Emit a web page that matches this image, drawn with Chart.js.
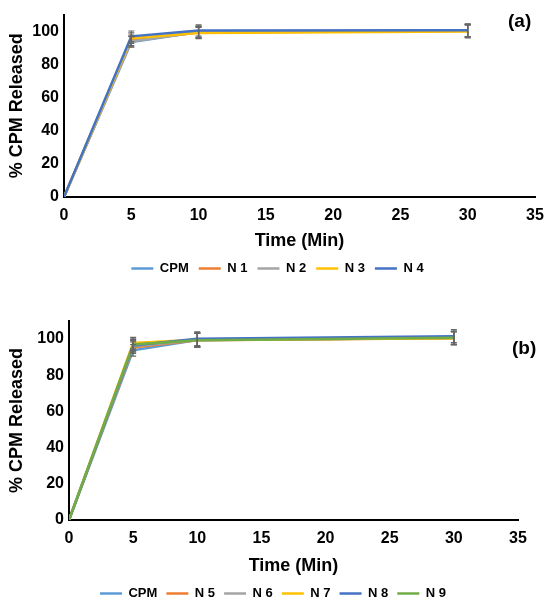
<!DOCTYPE html>
<html>
<head>
<meta charset="utf-8">
<script src="https://cdn.jsdelivr.net/npm/chart.js@4.4.1/dist/chart.umd.min.js"></script>
<style>
  html, body { margin: 0; padding: 0; background: #fff; overflow: hidden; }
  .page { position: relative; width: 556px; height: 605px; overflow: hidden; font-family: "Liberation Sans", Arial, sans-serif; }
  .panel { position: absolute; left: 0; width: 556px; }
  .tag { position: absolute; font-weight: bold; font-size: 19px; color: #000; }
</style>
</head>
<body>
<div class="page">
  <div class="panel" style="top:0;height:300px;"><canvas id="chartA"></canvas></div>
  <div class="panel" style="top:300px;height:314px;"><canvas id="chartB"></canvas></div>
  <div class="tag" style="left:508px;top:10px;">(a)</div>
  <div class="tag" style="left:512px;top:337px;">(b)</div>
</div>
<script>
// time points (min)
const times = [0, 5, 10, 30];
const xTicks = [0, 5, 10, 15, 20, 25, 30, 35];
const yTicks = [0, 20, 40, 60, 80, 100];

// panel (a)
const namesA = ["CPM", "N 1", "N 2", "N 3", "N 4"];
const cpmA = [0, 93.5, 99.5, 100.3];
const n1 = [0, 94.5, 99.2, 100.2];
const n2 = [0, 93.8, 99.6, 100.3];
const n3 = [0, 95.8, 98.9, 99.8];
const n4 = [0, 96.9, 100.4, 100.6];
const errA = [0, 3.2, 3.4, 3.8];

// panel (b)
const namesB = ["CPM", "N 5", "N 6", "N 7", "N 8", "N 9"];
const cpmB = [0, 93.8, 99.5, 100.6];
const n5 = [0, 95.3, 99.3, 100.4];
const n6 = [0, 96.0, 99.5, 100.6];
const n7 = [0, 97.8, 99.7, 100.5];
const n8 = [0, 96.5, 100.2, 101.6];
const n9 = [0, 97.0, 99.4, 100.8];
const errB = [0, 3.2, 3.8, 3.6];

const colors = ["#5B9BD5", "#ED7D31", "#A5A5A5", "#FFC000", "#4472C4", "#70AD47"];

// draws the vertical error bars with caps
const errorBars = {
  id: "errorBars",
  afterDatasetsDraw(chart) {
    const { ctx, scales: { x, y } } = chart;
    ctx.save();
    ctx.strokeStyle = "#666";
    ctx.lineWidth = 1.2;
    chart.data.datasets.forEach((ds) => {
      ds.data.forEach((p, i) => {
        const e = ds.err[i];
        if (!e) return;
        const px = x.getPixelForValue(p.x);
        const top = y.getPixelForValue(p.y + e);
        const bot = y.getPixelForValue(p.y - e);
        ctx.beginPath();
        ctx.moveTo(px, top); ctx.lineTo(px, bot);
        ctx.moveTo(px - 3, top); ctx.lineTo(px + 3, top);
        ctx.moveTo(px - 3, bot); ctx.lineTo(px + 3, bot);
        ctx.stroke();
      });
    });
    ctx.restore();
  },
};

// box: padding + fixed axis sizes, tuned so both panels line up with the figure
function makeChart(id, names, series, err, colorList, box) {
  const datasets = names.map((name, i) => ({
    label: name,
    data: times.map((t, j) => ({ x: t, y: series[i][j] })),
    err: err,
    borderColor: colorList[i],
    backgroundColor: colorList[i],
    borderWidth: 2.5,
    pointRadius: 0,
    tension: 0,
    order: names.length - i,
  }));

  return new Chart(document.getElementById(id), {
    type: "line",
    data: { datasets },
    options: {
      responsive: true,
      maintainAspectRatio: false,
      animation: false,
      layout: { padding: { top: box.top, right: box.right, left: box.padLeft, bottom: box.bottom } },
      plugins: {
        tooltip: { enabled: false },
        legend: {
          position: "bottom",
          labels: {
            usePointStyle: true,
            pointStyle: "line",
            pointStyleWidth: 22,
            color: "#000",
            padding: box.legendGap,
            font: { family: "Liberation Sans", size: 13, weight: "bold" },
            sort: (a, b) => a.datasetIndex - b.datasetIndex,
          },
        },
      },
      scales: {
        x: {
          type: "linear",
          min: 0,
          max: 35,
          afterBuildTicks: (s) => { s.ticks = xTicks.map((v) => ({ value: v })); },
          afterFit: (s) => { s.height = box.xh; },
          grid: { display: false, drawTicks: false },
          border: { color: "#000", width: 2 },
          ticks: { color: "#000", padding: 9, font: { family: "Liberation Sans", size: 16, weight: "bold" } },
          title: {
            display: true,
            text: "Time (Min)",
            color: "#000",
            padding: { top: 6, bottom: box.xTitlePad },
            font: { family: "Liberation Sans", size: 18, weight: "bold" },
          },
        },
        y: {
          min: 0,
          max: 110,
          afterBuildTicks: (s) => { s.ticks = yTicks.map((v) => ({ value: v })); },
          afterFit: (s) => { s.width = box.yw; },
          grid: { display: false, drawTicks: false },
          border: { color: "#000", width: 2 },
          ticks: { color: "#000", padding: 5, font: { family: "Liberation Sans", size: 16, weight: "bold" } },
          title: {
            display: true,
            text: "% CPM Released",
            color: "#000",
            padding: { top: box.yTitlePad, bottom: 0 },
            font: { family: "Liberation Sans", size: 18, weight: "bold" },
          },
        },
      },
    },
    plugins: [errorBars],
  });
}

makeChart("chartA", namesA, [cpmA, n1, n2, n3, n4], errA, colors,
  { top: 13, right: 21, bottom: 15, padLeft: 20, yw: 44, yTitlePad: -14, xh: 55, xTitlePad: 0, legendGap: 10 });
makeChart("chartB", namesB, [cpmB, n5, n6, n7, n8, n9], errB, colors,
  { top: 21, right: 38, bottom: 4, padLeft: 28, yw: 41, yTitlePad: -22, xh: 58, xTitlePad: 1, legendGap: 9 });
</script>
</body>
</html>
